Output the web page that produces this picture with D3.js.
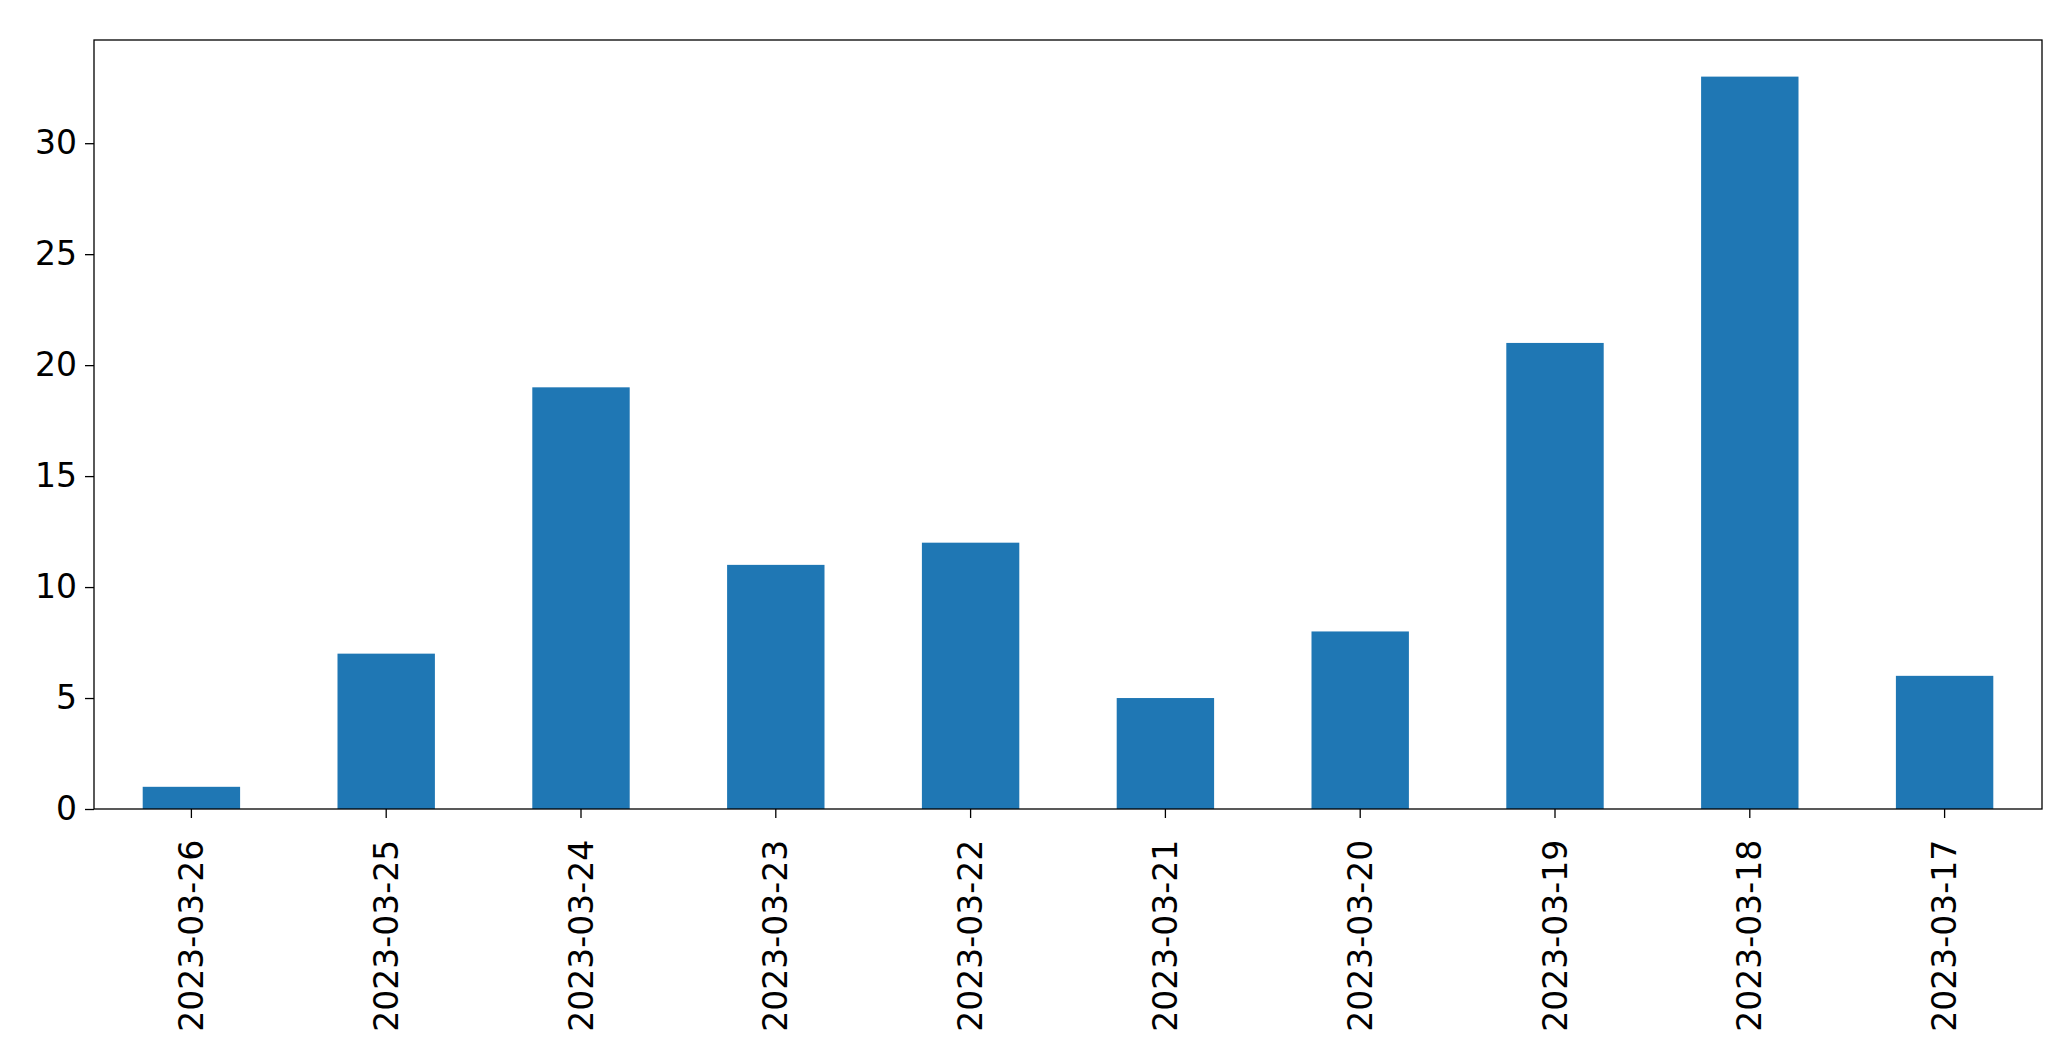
<!DOCTYPE html>
<html>
<head>
<meta charset="utf-8">
<script src="https://cdn.jsdelivr.net/npm/d3@7"></script>
<style>
  body { margin: 0; background: #fff; }
  text { font-family: "DejaVu Sans", sans-serif; }
</style>
</head>
<body>
<div id="chart"></div>
<script>
// дані з графіка
const dates = ["2023-03-26", "2023-03-25", "2023-03-24", "2023-03-23", "2023-03-22",
               "2023-03-21", "2023-03-20", "2023-03-19", "2023-03-18", "2023-03-17"];
const counts = [1, 7, 19, 11, 12, 5, 8, 21, 33, 6];
const yTicks = [0, 5, 10, 15, 20, 25, 30];

const W = 2071, H = 1061;
const margin = {top: 40, right: 29, bottom: 252, left: 94};
const width = W - margin.left - margin.right,
      height = H - margin.top - margin.bottom;

const svg = d3.select("#chart").append("svg")
    .attr("width", W).attr("height", H)
    .append("g")
    .attr("transform", `translate(${margin.left},${margin.top})`);

const x = d3.scaleBand().domain(dates).range([0, width]).paddingInner(0.5).paddingOuter(0.25);
const y = d3.scaleLinear().domain([0, d3.max(counts) * 1.05]).range([height, 0]);

// Стовпці
svg.selectAll(".bar").data(dates).enter().append("rect")
    .attr("x", d => x(d)).attr("width", x.bandwidth())
    .attr("y", (d, i) => y(counts[i])).attr("height", (d, i) => height - y(counts[i]))
    .attr("fill", "#1f77b4");

// Осі
const ax = svg.append("g").attr("transform", `translate(0,${height})`)
    .call(d3.axisBottom(x).tickSize(9).tickSizeOuter(0).tickPadding(10));
ax.selectAll("text")
    .attr("font-size", 33)
    .attr("transform", "rotate(-90)")
    .attr("text-anchor", "end")
    .attr("dx", "-0.45em").attr("dy", "-0.2em").attr("x", 0).attr("y", 0)
    .attr("transform", "translate(0,16) rotate(-90)")
    .attr("dy", "0.35em");

const ay = svg.append("g").call(d3.axisLeft(y).tickValues(yTicks).tickSize(9).tickSizeOuter(0).tickPadding(8));
ay.selectAll("text").attr("font-size", 33);

svg.selectAll(".domain").remove();
svg.selectAll(".tick line").attr("stroke", "#000").attr("stroke-width", 1.3);
svg.selectAll(".tick text").attr("fill", "#000");

// Рамка
svg.append("rect").attr("width", width).attr("height", height)
    .attr("fill", "none").attr("stroke", "#000").attr("stroke-width", 1.3);
</script>
</body>
</html>
